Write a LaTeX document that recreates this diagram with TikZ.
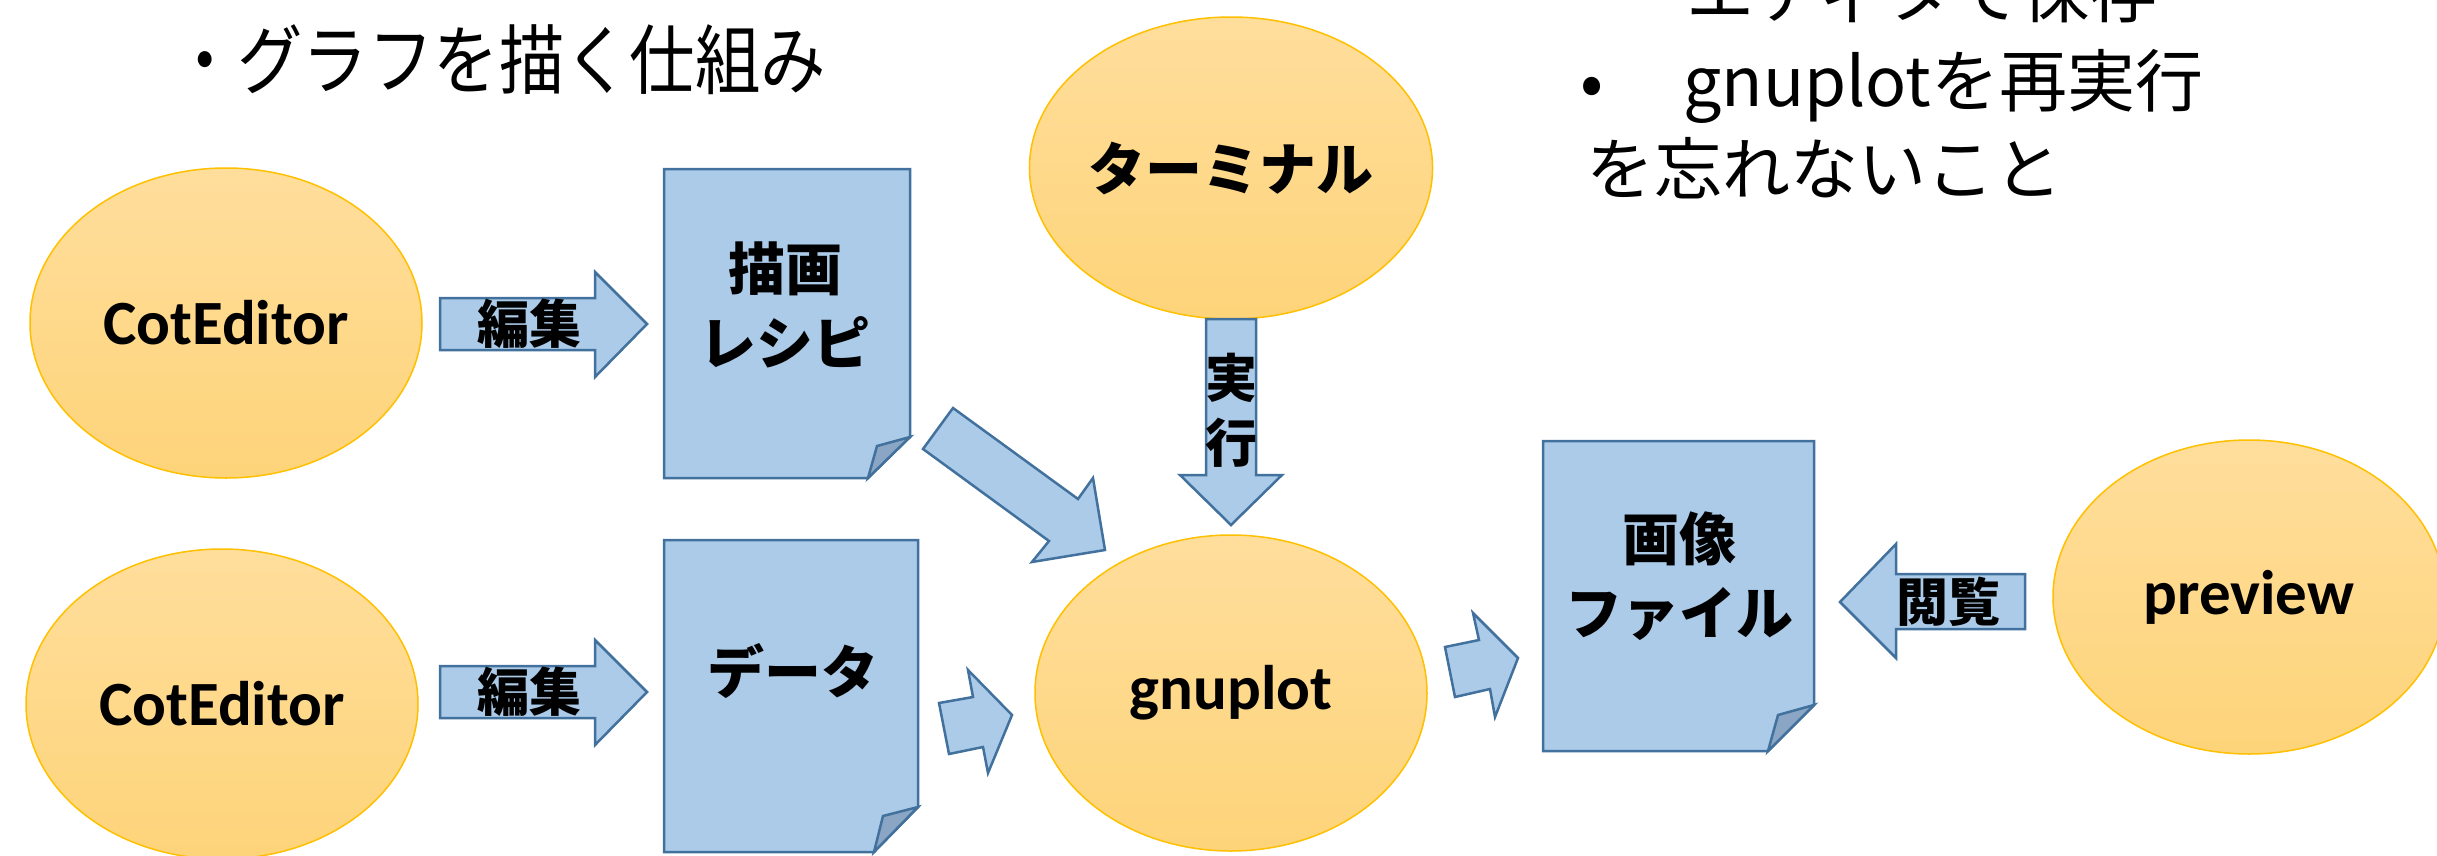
\documentclass[tikz,border=0pt]{standalone}
\usepackage{fontspec}
\usepackage{graphicx}
\setmainfont{Carlito}
\newfontfamily\jp{Noto Sans CJK JP}
\usetikzlibrary{shapes.geometric}
\definecolor{docfill}{RGB}{171,203,233}
\definecolor{docline}{RGB}{65,113,156}
\definecolor{foldfill}{RGB}{138,166,196}
\definecolor{elltop}{RGB}{255,222,156}
\definecolor{ellbot}{RGB}{254,212,122}
\definecolor{ellline}{RGB}{255,192,0}
\begin{document}
\begin{tikzpicture}[x=1pt,y=-1pt,
  ell/.style={ellipse, draw=ellline, line width=1.5pt, top color=elltop, bottom color=ellbot,
    minimum width=392pt, minimum height=310pt, inner sep=0pt,
    font=\fontsize{63}{70}\selectfont\bfseries},
  jell/.style={ell, font=\fontsize{57}{70}\selectfont\jp\bfseries},
  docbody/.style={fill=docfill, draw=docline, line width=2.5pt, line join=miter},
  docfold/.style={fill=foldfill, draw=docline, line width=2.5pt, line join=miter},
  blockarrow/.style={fill=docfill, draw=docline, line width=2.5pt, line join=miter},
  jlabel/.style={inner sep=0pt, align=center, font=\fontsize{57}{74}\selectfont\jp\bfseries},
  alabel/.style={inner sep=0pt, font=\fontsize{52}{60}\selectfont\jp\bfseries},
  toptext/.style={inner sep=0pt, anchor=base west, font=\fontsize{68}{80}\selectfont\jp},
]
\clip (0,0) rectangle (2437,855);
\fill[white] (0,0) rectangle (2437,855);

% ellipses
\node[ell] (ce1) at (226,323) {CotEditor};
\node[ell] (ce2) at (222,704) {CotEditor};
\node[jell, minimum height=302pt] (term) at (1231,168) {ターミナル};
\node[ell, minimum height=316pt] (gnu) at (1231,693) {gnuplot};
\node[ell, minimum height=314pt] (prev) at (2249,597) {preview};

% documents
\filldraw[docbody] (664,169) -- (910,169) -- (910,437) -- (868,478) -- (664,478) -- cycle;
\filldraw[docfold] (910,437) -- (877,446) -- (868,478) -- cycle;
\node[jlabel] (recipe) at (785,305) {描画\\レシピ};

\filldraw[docbody] (664,540) -- (918,540) -- (918,807) -- (874,852) -- (664,852) -- cycle;
\filldraw[docfold] (918,807) -- (883,816) -- (874,852) -- cycle;
\node[jlabel] (data) at (793,671) {データ};

\filldraw[docbody] (1543,441) -- (1814,441) -- (1814,705) -- (1768,751) -- (1543,751) -- cycle;
\filldraw[docfold] (1814,705) -- (1778,715) -- (1768,751) -- cycle;
\node[jlabel] (image) at (1679,576) {画像\\ファイル};

% block arrows
\filldraw[blockarrow] (440,298) -- (595,298) -- (595,272) -- (647,324) -- (595,377) -- (595,350) -- (440,350) -- cycle;
\node[alabel] (edit1) at (529,324) {編集};
\filldraw[blockarrow] (440,666) -- (595,666) -- (595,640) -- (647,692) -- (595,745) -- (595,718) -- (440,718) -- cycle;
\node[alabel] (edit2) at (529,692) {編集};

\filldraw[blockarrow] (1840,602) -- (1896,544) -- (1896,574) -- (2025,574) -- (2025,629) -- (1896,629) -- (1896,658) -- cycle;
\node[alabel] (view) at (1948,602) {閲覧};

\filldraw[blockarrow] (1206,319) -- (1256,319) -- (1256,475) -- (1282,475) -- (1231,525) -- (1180,475) -- (1206,475) -- cycle;
\node[alabel, align=center, font=\fontsize{52}{65}\selectfont\jp\bfseries] (run) at (1231,410) {実\\行};

\filldraw[blockarrow] (953,408) -- (1078,499) -- (1093,478) -- (1105,550) -- (1032,562) -- (1049,541) -- (923,449) -- cycle;
\filldraw[blockarrow] (939,703) -- (973,697) -- (968,670) -- (1012,715) -- (988,773) -- (983,747) -- (949,754) -- cycle;
\filldraw[blockarrow] (1445,647) -- (1479,640) -- (1473,613) -- (1518,658) -- (1495,717) -- (1490,689) -- (1455,697) -- cycle;

% top texts
\node[toptext, font=\fontsize{76}{80}\selectfont\jp] (title) at (172,88) {\scalebox{0.86}[1]{・グラフを描く仕組み}};
\node[toptext] (note1) at (1686,17) {エディタで保存};
\node[toptext] (note2) at (1580,106) {\makebox[103pt][l]{•}gnuplotを再実行};
\node[toptext] (note3) at (1586,194) {を忘れないこと};
\end{tikzpicture}
\end{document}
